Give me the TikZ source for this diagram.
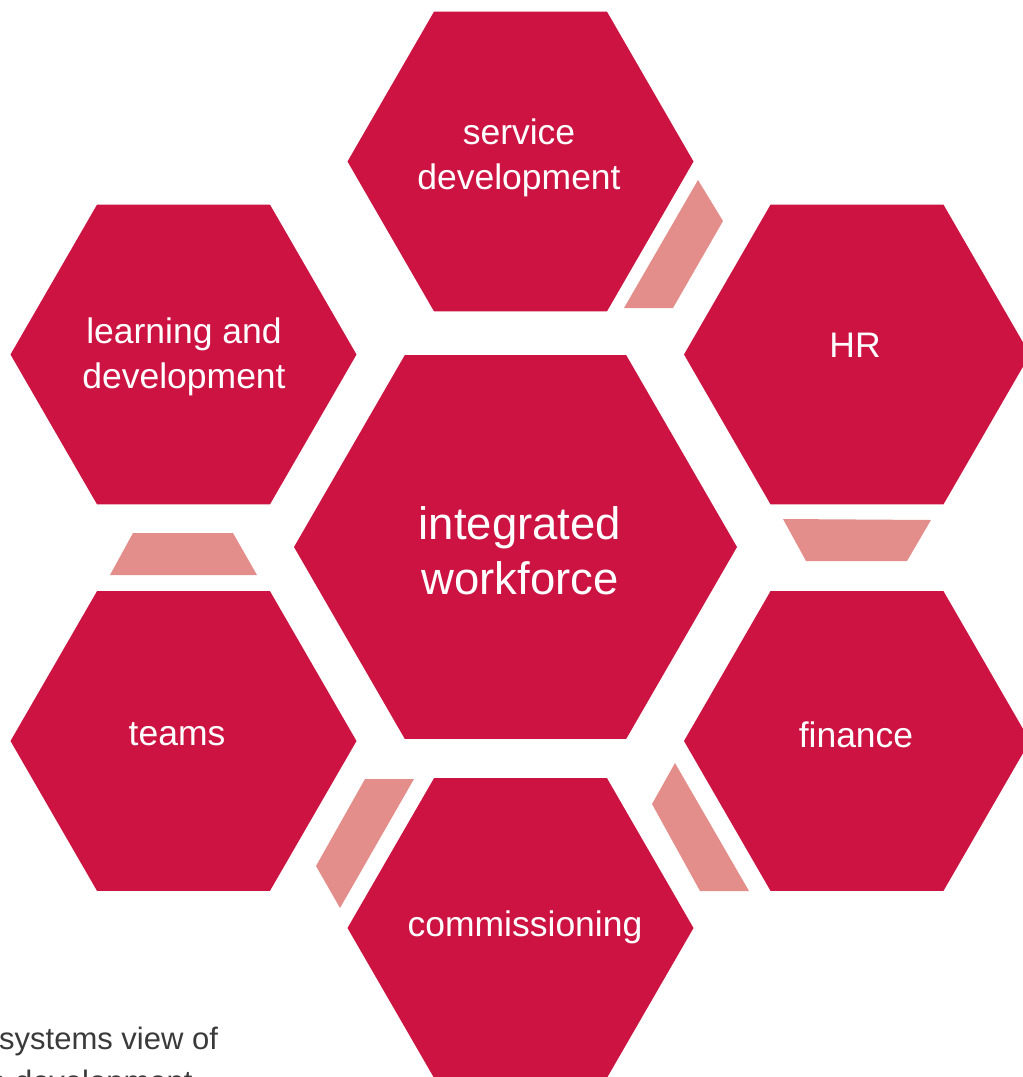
\documentclass[tikz,border=0pt]{standalone}
\usepackage{fontspec}
\setmainfont{Liberation Sans}
\usetikzlibrary{shapes.geometric}
\definecolor{hexred}{HTML}{CC1342}
\definecolor{linkpink}{HTML}{E38E8A}
\definecolor{captgray}{HTML}{3A3A3A}
\begin{document}
\begin{tikzpicture}[x=1pt,y=-1pt,
  hexbase/.style={regular polygon, regular polygon sides=6, fill=hexred, draw=none, inner sep=0pt, outer sep=0pt},
  hexbig/.style={hexbase, minimum size=443pt},
  hexsmall/.style={hexbase, minimum size=346pt},
  lbl/.style={text=white, align=center, inner sep=0pt, font=\fontsize{35.5}{45}\selectfont},
  lblbig/.style={text=white, align=center, inner sep=0pt, font=\fontsize{45.5}{55}\selectfont},
  link/.style={fill=linkpink},
  capt/.style={text=captgray, anchor=base west, inner sep=0pt, font=\fontsize{31}{40}\selectfont}]
\useasboundingbox (0,0) rectangle (1023,1077);
\clip (0,0) rectangle (1023,1077);
% hexagons
\node[hexbig]   (core) at (515.5,547) {};
\node[hexsmall] (sd)   at (520.5,161.5) {};
\node[hexsmall] (ld)   at (183.5,354.5) {};
\node[hexsmall] (hr)   at (857,354.5) {};
\node[hexsmall] (tm)   at (183.5,741) {};
\node[hexsmall] (fin)  at (857,741) {};
\node[hexsmall] (com)  at (520.5,928) {};
% links
\fill[link] (698,180) -- (723,221) -- (673,308) -- (624,308) -- cycle;
\fill[link] (783,519) -- (931,520) -- (907,561) -- (806,561) -- cycle;
\fill[link] (133,533) -- (233,533) -- (257,575) -- (110,575) -- cycle;
\fill[link] (365,779) -- (414,779) -- (340,908) -- (316,866) -- cycle;
\fill[link] (675,763) -- (652,804) -- (700,891) -- (749,891) -- cycle;
% labels
\node[lblbig] (core-t) at (520,551) {integrated\\workforce};
\node[lbl] (sd-t)  at (519,157.5) {service\\development};
\node[lbl] (ld-t)  at (184,357) {learning and\\development};
\node[lbl] (hr-t)  at (855,345.5) {HR};
\node[lbl] (tm-t)  at (177,734.5) {teams};
\node[lbl] (fin-t) at (856,734.5) {finance};
\node[lbl] (com-t) at (525,927.5) {commissioning};
% caption
\node[capt] (cap1) at (-1,1049) {systems view of};
\node[capt] (cap2) at (-11,1092) {e development};
\end{tikzpicture}
\end{document}
